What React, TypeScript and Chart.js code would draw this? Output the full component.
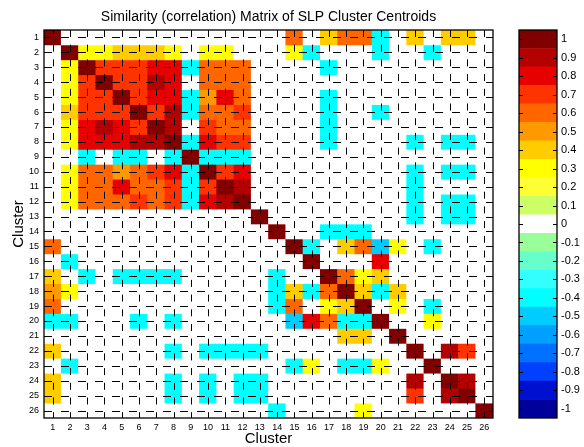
import React, { useEffect, useRef } from 'react';
import { Chart, registerables } from 'chart.js';

Chart.register(...registerables);

const CLUSTERS = ['1','2','3','4','5','6','7','8','9','10','11','12','13','14','15','16','17','18','19','20','21','22','23','24','25','26'];

const ROW_1  = [1,0,0,0,0,0,0,0,0,0,0,0,0,0,.6,0,.4,.6,.6,-.4,0,.4,0,.4,.4,0];
const ROW_2  = [0,1,.3,.3,.4,.4,.4,.3,0,.3,.3,0,0,0,.3,-.4,0,0,0,-.4,0,0,-.4,0,0,0];
const ROW_3  = [0,.3,1,.7,.7,.7,.8,.8,-.4,.6,.6,.6,0,0,0,0,-.4,0,0,0,0,0,0,0,0,0];
const ROW_4  = [0,.3,.7,1,.7,.7,.9,.8,0,.6,.6,.6,0,0,0,0,0,0,0,0,0,0,0,0,0,0];
const ROW_5  = [0,.3,.7,.7,1,.7,.8,.8,-.4,.5,.8,.6,0,0,0,0,-.4,0,0,0,0,0,0,0,0,0];
const ROW_6  = [0,.4,.7,.7,.7,1,.7,.9,-.4,.6,.6,.7,0,0,0,0,-.4,0,0,-.4,0,0,0,0,0,0];
const ROW_7  = [0,.3,.8,.9,.8,.7,1,.9,0,.7,.6,.6,0,0,0,0,-.4,0,0,0,0,0,0,0,0,0];
const ROW_8  = [0,.3,.8,.8,.8,.9,.9,1,-.4,.8,.7,.7,0,0,0,0,-.4,0,0,0,0,-.4,0,-.4,-.4,0];
const ROW_9  = [0,0,-.4,0,-.4,-.4,0,-.4,1,-.4,-.4,-.4,0,0,0,0,0,0,0,0,0,0,0,0,0,0];
const ROW_10 = [0,.3,.6,.6,.5,.6,.7,.8,-.4,1,.7,.8,0,0,0,0,0,0,0,0,0,-.4,0,-.4,-.4,0];
const ROW_11 = [0,.3,.6,.6,.8,.6,.6,.7,-.4,.7,1,.9,0,0,0,0,0,0,0,0,0,-.4,0,0,0,0];
const ROW_12 = [0,.3,.6,.6,.6,.7,.6,.7,-.4,.8,.9,1,0,0,0,0,0,0,0,0,0,-.4,0,-.4,-.4,0];
const ROW_13 = [0,0,0,0,0,0,0,0,0,0,0,0,1,0,0,0,0,0,0,0,0,-.4,0,-.4,-.4,0];
const ROW_14 = [0,0,0,0,0,0,0,0,0,0,0,0,0,1,0,0,-.4,-.4,-.4,0,0,0,0,0,0,0];
const ROW_15 = [.6,0,0,0,0,0,0,0,0,0,0,0,0,0,1,-.4,0,.4,.6,-.5,.3,0,-.4,0,0,0];
const ROW_16 = [0,-.4,0,0,0,0,0,0,0,0,0,0,0,0,0,1,0,0,0,.8,0,0,0,0,0,0];
const ROW_17 = [.4,0,-.4,0,-.4,-.4,-.4,-.4,0,0,0,0,0,-.4,0,0,1,.6,.3,.4,0,0,0,0,0,0];
const ROW_18 = [.5,.3,0,0,0,0,0,0,0,0,0,0,0,-.4,.4,-.4,.6,1,.4,-.4,.4,0,0,0,0,0];
const ROW_19 = [.6,0,0,0,0,0,0,0,0,0,0,0,0,-.4,.6,0,.3,.4,1,0,.3,0,-.4,0,0,0];
const ROW_20 = [-.4,-.4,0,0,0,-.4,0,-.4,0,0,0,0,0,0,-.5,.8,.6,-.4,-.4,1,0,0,.3,0,0,0];
const ROW_21 = [0,0,0,0,0,0,0,0,0,0,0,0,0,0,0,0,0,.4,.4,0,1,0,0,0,0,0];
const ROW_22 = [.4,0,0,0,0,0,0,-.4,0,-.4,-.4,-.4,-.4,0,0,0,0,0,0,0,0,1,0,.9,.7,0];
const ROW_23 = [0,-.4,0,0,0,0,0,0,0,0,0,0,0,0,-.4,.3,0,-.4,-.4,.3,0,0,1,0,0,0];
const ROW_24 = [.4,0,0,0,0,0,0,-.4,0,-.4,0,-.4,-.4,0,0,0,0,0,0,0,0,.9,0,1,.9,0];
const ROW_25 = [.4,0,0,0,0,0,0,-.4,0,-.4,0,-.4,-.4,0,0,0,0,0,0,0,0,.7,0,.9,1,0];
const ROW_26 = [0,0,0,0,0,0,0,0,0,0,0,0,0,-.4,0,0,0,0,.3,0,0,0,0,0,0,1];

const MATRIX = [ROW_1, ROW_2, ROW_3, ROW_4, ROW_5, ROW_6, ROW_7, ROW_8, ROW_9, ROW_10, ROW_11, ROW_12, ROW_13,
  ROW_14, ROW_15, ROW_16, ROW_17, ROW_18, ROW_19, ROW_20, ROW_21, ROW_22, ROW_23, ROW_24, ROW_25, ROW_26];

const CBAR_LEVELS = [-1, -0.9, -0.8, -0.7, -0.6, -0.5, -0.4, -0.3, -0.2, -0.1, 0, 0.1, 0.2, 0.3, 0.4, 0.5, 0.6, 0.7, 0.8, 0.9, 1];
const CBAR_LABELS = ['-1', '-0.9', '-0.8', '-0.7', '-0.6', '-0.5', '-0.4', '-0.3', '-0.2', '-0.1', '0', '0.1', '0.2', '0.3', '0.4', '0.5', '0.6', '0.7', '0.8', '0.9', '1'];
const CBAR_COLORS = ['#00009a', '#0010d0', '#0040ff', '#0070ff', '#00a0ff', '#00ccff', '#00ffff', '#33ffff', '#66ffcc', '#99ff99', '#ffffff',
  '#ccff66', '#ffff33', '#ffff00', '#ffcc00', '#ff9900', '#ff6600', '#ff3300', '#e60000', '#b30000', '#800000'];

const TITLE = 'Similarity (correlation) Matrix of SLP Cluster Centroids';
const AXIS_TITLE = 'Cluster';
const FONT = 'Liberation Sans, Arial, sans-serif';

function colorFor(v: number): string {
  const i = Math.max(0, Math.min(20, Math.round((v + 1) * 10)));
  return CBAR_COLORS[i];
}

const gridPlugin = {
  id: 'matlabGrid',
  afterDatasetsDraw(chart: any) {
    const { ctx, chartArea: a, scales } = chart;
    const xs = scales.x;
    const ys = scales.y;
    ctx.save();
    ctx.strokeStyle = '#000';
    ctx.lineWidth = 1;
    ctx.beginPath();
    ctx.rect(a.left, a.top, a.right - a.left, a.bottom - a.top);
    ctx.clip();
    ctx.beginPath();
    ctx.setLineDash([8, 9]);
    ctx.lineDashOffset = 0;
    CLUSTERS.forEach((_, i) => {
      const py = Math.round(ys.getPixelForValue(i + 1)) + 0.5;
      ctx.moveTo(a.left, py);
      ctx.lineTo(a.right, py);
    });
    ctx.stroke();
    ctx.beginPath();
    ctx.setLineDash([7, 7.7]);
    CLUSTERS.forEach((_, i) => {
      const px = Math.round(xs.getPixelForValue(i)) + 0.5;
      ctx.moveTo(px, a.top);
      ctx.lineTo(px, a.bottom);
    });
    ctx.stroke();
    ctx.restore();
    ctx.save();
    ctx.strokeStyle = '#000';
    ctx.lineWidth = 1.3;
    ctx.setLineDash([]);
    ctx.strokeRect(a.left, a.top, a.right - a.left, a.bottom - a.top);
    ctx.restore();
  },
};

const cbarPlugin = {
  id: 'cbarBox',
  afterDatasetsDraw(chart: any) {
    const { ctx, chartArea: a, scales } = chart;
    const ys = scales.y;
    ctx.save();
    ctx.strokeStyle = '#000';
    ctx.lineWidth = 1;
    ctx.beginPath();
    CBAR_LEVELS.forEach((v) => {
      const py = Math.round(ys.getPixelForValue(v)) + 0.5;
      ctx.moveTo(a.left, py);
      ctx.lineTo(a.left + 4, py);
      ctx.moveTo(a.right - 4, py);
      ctx.lineTo(a.right, py);
    });
    ctx.stroke();
    ctx.lineWidth = 1.3;
    ctx.strokeRect(a.left, a.top, a.right - a.left, a.bottom - a.top);
    ctx.restore();
  },
};

export default function App() {
  const mainRef = useRef<HTMLCanvasElement | null>(null);
  const cbarRef = useRef<HTMLCanvasElement | null>(null);

  useEffect(() => {
    const main = new Chart(mainRef.current as HTMLCanvasElement, {
      type: 'bar',
      data: {
        labels: CLUSTERS,
        datasets: MATRIX.map((row, r) => ({
          label: 'Row ' + CLUSTERS[r],
          data: row.map(() => [r + 0.5, r + 1.5]) as any,
          backgroundColor: row.map(colorFor),
          borderWidth: 0,
          barPercentage: 1,
          categoryPercentage: 1,
          grouped: false,
        })),
      },
      options: {
        responsive: false,
        animation: false,
        layout: { padding: { left: 0, right: 17, top: 0, bottom: 0 } },
        plugins: {
          legend: { display: false },
          tooltip: { enabled: false },
          title: {
            display: true,
            text: TITLE,
            color: '#000',
            fullSize: false,
            font: { family: FONT, size: 14, weight: 'normal' },
            padding: { top: 9, bottom: 4.2 },
          },
        },
        scales: {
          x: {
            type: 'category',
            offset: true,
            grid: { display: false, drawTicks: false },
            border: { display: false },
            ticks: { color: '#000', font: { family: FONT, size: 9 }, padding: 4, maxRotation: 0, autoSkip: false },
            title: { display: true, text: AXIS_TITLE, color: '#000', font: { family: FONT, size: 15 }, padding: { top: 0, bottom: -1 } },
            afterFit: (s: any) => { s.height = 29; },
          },
          y: {
            type: 'linear',
            min: 0.5,
            max: 26.5,
            reverse: true,
            afterBuildTicks: (s: any) => { s.ticks = CLUSTERS.map((_, i) => ({ value: i + 1 })); },
            grid: { display: false, drawTicks: false },
            border: { display: false },
            ticks: {
              color: '#000', font: { family: FONT, size: 9 }, padding: 5, autoSkip: false,
              callback: (_v: any, i: number) => CLUSTERS[i],
            },
            title: { display: true, text: AXIS_TITLE, color: '#000', font: { family: FONT, size: 15 }, padding: { top: 10, bottom: 0 } },
            afterFit: (s: any) => { s.width = 44; },
          },
        },
      } as any,
      plugins: [gridPlugin],
    });

    const cbar = new Chart(cbarRef.current as HTMLCanvasElement, {
      type: 'bar',
      data: {
        labels: ['colorbar'],
        datasets: CBAR_LEVELS.map((v, i) => ({
          label: CBAR_LABELS[i],
          data: [[v - 0.05, v + 0.05]] as any,
          backgroundColor: CBAR_COLORS[i],
          borderWidth: 0,
          barPercentage: 1,
          categoryPercentage: 1,
          grouped: false,
        })),
      },
      options: {
        responsive: false,
        animation: false,
        layout: { padding: { left: 9, right: 0, top: 30, bottom: 29 } },
        plugins: { legend: { display: false }, tooltip: { enabled: false } },
        scales: {
          x: { display: false, offset: true },
          y: {
            position: 'right',
            min: -1.05,
            max: 1.05,
            afterBuildTicks: (s: any) => { s.ticks = CBAR_LEVELS.map((v) => ({ value: v })); },
            grid: { display: false, drawTicks: false },
            border: { display: false },
            ticks: {
              color: '#000', font: { family: FONT, size: 11 }, padding: 4, autoSkip: false,
              callback: (_v: any, i: number) => CBAR_LABELS[i],
            },
            afterFit: (s: any) => { s.width = 27; },
          },
        },
      } as any,
      plugins: [cbarPlugin],
    });

    return () => {
      main.destroy();
      cbar.destroy();
    };
  }, []);

  return (
    <div style={{ position: 'absolute', left: 0, top: 0, width: 584, height: 447, background: '#fff' }}>
      <canvas ref={mainRef} width={510} height={447} style={{ position: 'absolute', left: 0, top: 0, width: 510, height: 447 }} />
      <canvas ref={cbarRef} width={74} height={447} style={{ position: 'absolute', left: 510, top: 0, width: 74, height: 447 }} />
    </div>
  );
}
